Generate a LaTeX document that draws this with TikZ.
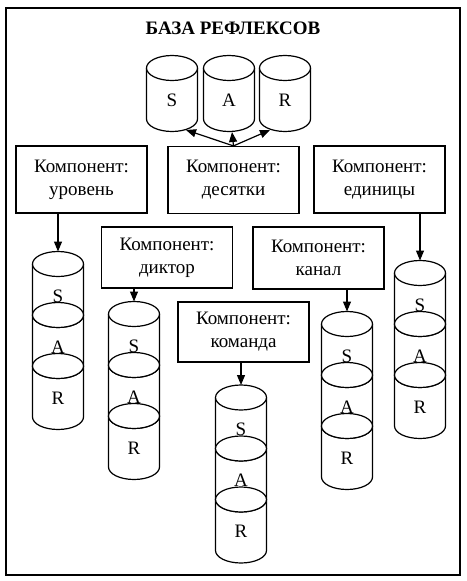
\documentclass[tikz,border=0pt]{standalone}
\usepackage{fontspec}
\setmainfont{Liberation Serif}
\usetikzlibrary{arrows.meta}
\tikzset{x=1pt, y=-1pt, % pixel-like coordinates, y going down
every node/.style={font=\fontsize{19}{23}\selectfont},
comp/.style={ % component boxes
draw, line width=1.2pt,
align=center,
minimum width=131pt,
inner sep=0pt},
cyl/.style={line width=1.2pt}, % cylinder outlines
cyltext/.style={inner sep=0pt},
link/.style={ % arrows
draw, line width=1.2pt,
-{Triangle[length=10pt,width=8pt]}}}
% one cylinder segment: name, x, y of top ellipse centre, label
\newcommand{\cylpart}[4]{%
\draw[cyl] (#2-25.5,#3) -- (#2-25.5,#3+51)
arc[start angle=180, end angle=360, x radius=25.5pt, y radius=12.5pt]
-- (#2+25.5,#3);
\draw[cyl, fill=white] (#2,#3) ellipse[x radius=25.5pt, y radius=12.5pt];
\node[cyltext] (#1) at (#2,#3+32) {#4};}
% stack of three segments S, A, R: name, x, y
\newcommand{\cylstack}[3]{%
\coordinate (#1) at (#2,#3-12.5);
\cylpart{#1S}{#2}{#3}{S}
\cylpart{#1A}{#2}{#3+51}{A}
\cylpart{#1R}{#2}{#3+102}{R}}

\begin{document}
\begin{tikzpicture}
\useasboundingbox (0,0) rectangle (466,581);
\draw[line width=1.6pt] (6,8) rectangle (460,575);
\node[font=\bfseries\fontsize{19}{23}\selectfont] (title) at (233,28) {БАЗА РЕФЛЕКСОВ};
% base
\cylpart{baseS}{172}{68}{S}
\cylpart{baseA}{229}{68}{A}
\cylpart{baseR}{285}{68}{R}
\coordinate (inS) at (186,130);
\coordinate (inA) at (232,132);
\coordinate (inR) at (270,130);
% components
\node[comp, minimum height=67pt] (urov) at (81.5,179.5) {Компонент:\\уровень};
\node[comp, minimum height=67pt] (des) at (233.5,180) {Компонент:\\десятки};
\node[comp, minimum height=67pt] (ed) at (379.5,179.5) {Компонент:\\единицы};
\node[comp, minimum height=61pt] (dikt) at (167,257.5) {Компонент:\\диктор};
\node[comp, minimum height=62pt] (kan) at (318.5,258) {Компонент:\\канал};
\node[comp, minimum height=60pt] (kom) at (243.5,332) {Компонент:\\команда};
\cylstack{urovs}{58}{264}
\cylstack{dikts}{134}{314}
\cylstack{koms}{241}{397.5}
\cylstack{kans}{347}{324}
\cylstack{eds}{420}{273}
\draw[link] (des.north) -- (inS);
\draw[link] (des.north) -- (inA);
\draw[link] (des.north) -- (inR);
\draw[link] (urov.south -| urovs) -- (urovs);
\draw[link] (dikt.south -| dikts) -- (dikts);
\draw[link] (kom.south -| koms) -- (koms);
\draw[link] (kan.south -| kans) -- (kans);
\draw[link] (ed.south -| eds) -- (eds);
\end{tikzpicture}
\end{document}
